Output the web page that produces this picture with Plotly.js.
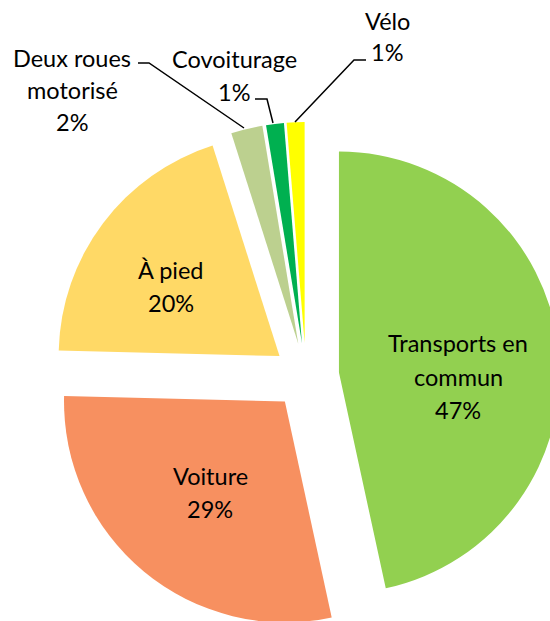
<!DOCTYPE html>
<html>
<head>
<meta charset="utf-8">
<script src="https://cdn.plot.ly/plotly-3.0.1.min.js"></script>
<style>
  html, body { margin: 0; padding: 0; overflow: hidden; background: #fff; width: 550px; height: 621px; }
  #chart { width: 620px; height: 680px; }
</style>
</head>
<body>
<div id="chart"></div>
<script>
// ---- Data ----
const categories = ["Transports en commun", "Voiture", "À pied", "Deux roues motorisé", "Covoiturage", "Vélo"];
const displayLabels = ["Transports en<br>commun", "Voiture", "À pied", "Deux roues<br>motorisé", "Covoiturage", "Vélo"];
const shares = [46.6, 28.8, 19.7, 2.3, 1.3, 1.3];
const colors = ["#92D050", "#F79060", "#FFD966", "#BCD08F", "#00B050", "#FFFF00"];

// ---- Layout geometry (pixels) ----
const W = 620, H = 680;
const M = { l: 52, r: 60, t: 122, b: 50 };
const PW = W - M.l - M.r, PH = H - M.t - M.b;
const px = x => (x - M.l) / PW;
const py = y => 1 - (y - M.t) / PH;

// label placement: [x centre, first line y centre, line step]
const labelPos = [
  [458, 343, 33.5],
  [210, 476, 32.5],
  [171, 270, 33],
  [72, 58, 32],
  [234, 59, 33],
  [387, 21, 31]
];
// leader lines for the outside labels (index -> polyline)
const leaders = {
  3: [[138, 63], [149, 63], [244, 128]],
  4: [[255, 99], [267, 99], [273, 123]],
  5: [[366, 60], [354, 60], [295, 122]]
};

const total = shares.reduce((a, b) => a + b, 0);
const FONT = { family: "Lato, 'Noto Sans', sans-serif", size: 23.5, color: "#000" };

const annotations = [];
displayLabels.forEach((lab, i) => {
  const lines = lab.split("<br>").concat([Math.round(shares[i] / total * 100) + "%"]);
  const [cx, cy, step] = labelPos[i];
  lines.forEach((ln, k) => {
    annotations.push({
      xref: "paper", yref: "paper",
      x: px(cx), y: py(cy + k * step),
      xanchor: "center", yanchor: "middle",
      text: ln, showarrow: false, font: FONT
    });
  });
});

const shapes = Object.keys(leaders).map(k => {
  const pts = leaders[k];
  const d = pts.map((p, j) => (j ? "L" : "M") + px(p[0]) + "," + py(p[1])).join(" ");
  return { type: "path", xref: "paper", yref: "paper", path: d, line: { color: "#000", width: 1.5 } };
});

const trace = {
  type: "pie",
  labels: categories,
  values: shares,
  sort: false,
  direction: "clockwise",
  rotation: 0,
  pull: shares.map(() => 0.15),
  marker: { colors: colors, line: { width: 0 } },
  textinfo: "none",
  hoverinfo: "label+percent",
  showlegend: false
};

const layout = {
  width: W, height: H,
  margin: M,
  paper_bgcolor: "#fff",
  plot_bgcolor: "#fff",
  showlegend: false,
  annotations: annotations,
  shapes: shapes
};

Plotly.newPlot("chart", [trace], layout, { displayModeBar: false, staticPlot: true });
</script>
</body>
</html>
